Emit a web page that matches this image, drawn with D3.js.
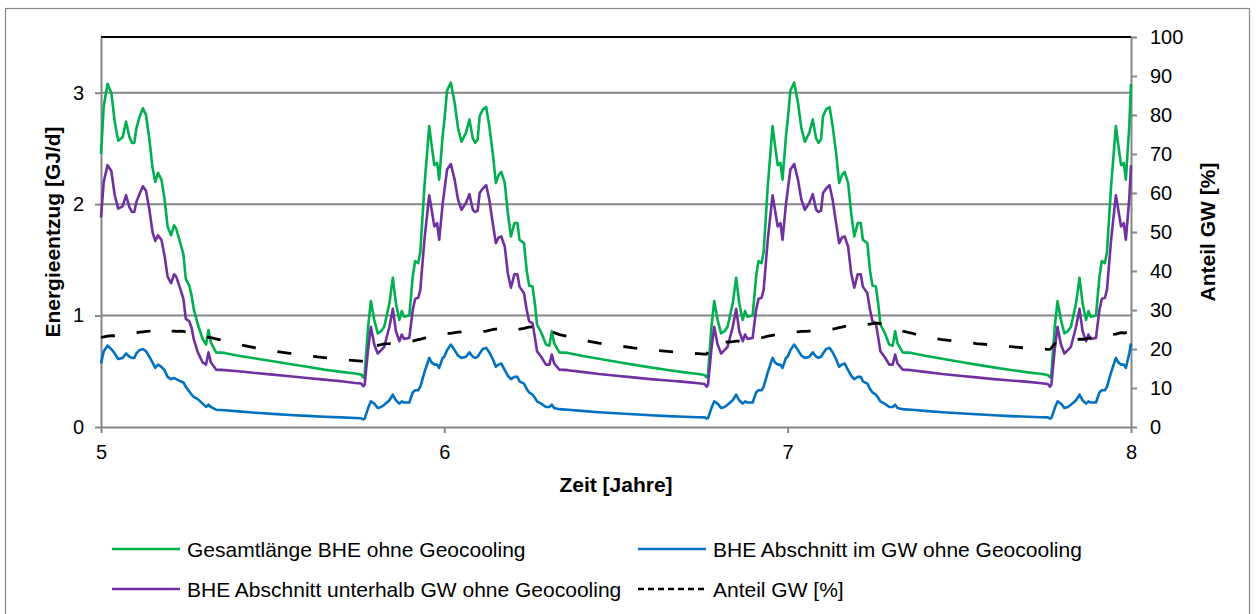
<!DOCTYPE html>
<html>
<head>
<meta charset="utf-8">
<script src="https://cdn.jsdelivr.net/npm/d3@7"></script>
<style>
  body { margin: 0; background: #fff; }
  svg { display: block; font-family: "Liberation Sans", Arial, sans-serif; }
</style>
</head>
<body>
<svg id="chart" width="1256" height="614"></svg>
<script>
// Years shown and the sampling grid inside each year (fraction of a year)
const yearStarts = [5, 6, 7];
const phase = [
  0.000, 0.008, 0.019, 0.030, 0.040, 0.050, 0.063, 0.073, 0.083, 0.090,
  0.097, 0.103, 0.112, 0.122, 0.131, 0.141, 0.150, 0.158, 0.166, 0.176,
  0.185, 0.194, 0.204, 0.213, 0.219, 0.232, 0.240, 0.247, 0.257, 0.264,
  0.270, 0.282, 0.296, 0.306, 0.313, 0.320, 0.335, 0.360, 0.400, 0.450,
  0.500, 0.550, 0.600, 0.650, 0.700, 0.740, 0.758, 0.764, 0.768, 0.778,
  0.786, 0.796, 0.806, 0.816, 0.825, 0.840, 0.850, 0.859, 0.869, 0.876,
  0.883, 0.898, 0.908, 0.915, 0.924, 0.930, 0.942, 0.956, 0.963, 0.971,
  0.979, 0.985, 0.995, 1.000
];

// Gesamtlänge BHE ohne Geocooling [GJ/d], one row per year
const gesamt = [
  [2.45, 2.88, 3.08, 3.00, 2.74, 2.57, 2.60, 2.74, 2.60, 2.55,
   2.55, 2.68, 2.78, 2.86, 2.80, 2.58, 2.33, 2.20, 2.28, 2.22,
   2.05, 1.80, 1.72, 1.81, 1.78, 1.64, 1.55, 1.33, 1.27, 1.18,
   1.06, 0.92, 0.79, 0.74, 0.87, 0.76, 0.67, 0.665, 0.64, 0.615,
   0.59, 0.565, 0.54, 0.515, 0.495, 0.48, 0.47, 0.445, 0.47, 0.90,
   1.13, 0.96, 0.84, 0.86, 0.90, 1.11, 1.34, 1.11, 0.96, 1.04,
   0.99, 1.00, 1.35, 1.49, 1.47, 1.57, 2.16, 2.70, 2.53, 2.35,
   2.37, 2.22, 2.61, 2.75],
  [2.75, 3.02, 3.09, 2.91, 2.68, 2.56, 2.64, 2.76, 2.59, 2.55,
   2.58, 2.79, 2.85, 2.87, 2.70, 2.46, 2.19, 2.26, 2.29, 2.19,
   1.92, 1.71, 1.83, 1.83, 1.68, 1.65, 1.40, 1.27, 1.26, 1.10,
   0.92, 0.85, 0.74, 0.73, 0.86, 0.75, 0.67, 0.665, 0.64, 0.612,
   0.585, 0.56, 0.535, 0.512, 0.49, 0.475, 0.466, 0.446, 0.47, 0.90,
   1.13, 0.96, 0.84, 0.86, 0.90, 1.11, 1.34, 1.11, 0.96, 1.04,
   0.99, 1.00, 1.35, 1.49, 1.47, 1.57, 2.16, 2.70, 2.53, 2.35,
   2.37, 2.22, 2.61, 2.75],
  [2.75, 3.02, 3.09, 2.91, 2.68, 2.56, 2.64, 2.76, 2.59, 2.55,
   2.58, 2.79, 2.85, 2.87, 2.70, 2.46, 2.19, 2.26, 2.29, 2.19,
   1.92, 1.71, 1.83, 1.83, 1.68, 1.65, 1.40, 1.27, 1.26, 1.10,
   0.92, 0.85, 0.74, 0.73, 0.86, 0.75, 0.67, 0.665, 0.64, 0.612,
   0.585, 0.56, 0.535, 0.512, 0.49, 0.475, 0.466, 0.446, 0.47, 0.90,
   1.13, 0.96, 0.84, 0.86, 0.90, 1.11, 1.34, 1.11, 0.96, 1.04,
   0.99, 1.00, 1.35, 1.49, 1.47, 1.57, 2.16, 2.70, 2.53, 2.35,
   2.37, 2.22, 2.70, 3.08]
];

// BHE Abschnitt unterhalb GW ohne Geocooling [GJ/d]
const unterhalb = [
  [1.88, 2.20, 2.35, 2.30, 2.08, 1.96, 1.98, 2.08, 1.97, 1.93,
   1.93, 2.02, 2.09, 2.16, 2.12, 1.95, 1.75, 1.67, 1.72, 1.68,
   1.54, 1.35, 1.29, 1.37, 1.35, 1.23, 1.15, 0.97, 0.95, 0.89,
   0.79, 0.67, 0.58, 0.56, 0.67, 0.58, 0.515, 0.51, 0.50, 0.485,
   0.47, 0.455, 0.44, 0.425, 0.41, 0.395, 0.39, 0.365, 0.38, 0.70,
   0.90, 0.74, 0.66, 0.69, 0.72, 0.90, 1.06, 0.86, 0.77, 0.83,
   0.79, 0.80, 1.05, 1.15, 1.16, 1.23, 1.68, 2.08, 1.95, 1.80,
   1.83, 1.68, 2.00, 2.12],
  [2.12, 2.31, 2.36, 2.22, 2.04, 1.95, 2.01, 2.09, 1.95, 1.93,
   1.94, 2.10, 2.14, 2.17, 2.04, 1.83, 1.65, 1.70, 1.71, 1.62,
   1.38, 1.25, 1.37, 1.37, 1.26, 1.20, 1.05, 0.95, 0.93, 0.80,
   0.68, 0.63, 0.56, 0.56, 0.65, 0.57, 0.515, 0.51, 0.495, 0.475,
   0.46, 0.445, 0.43, 0.418, 0.405, 0.392, 0.386, 0.362, 0.38, 0.70,
   0.90, 0.74, 0.66, 0.69, 0.72, 0.90, 1.06, 0.86, 0.77, 0.83,
   0.79, 0.80, 1.05, 1.15, 1.16, 1.23, 1.68, 2.08, 1.95, 1.80,
   1.83, 1.68, 2.00, 2.12],
  [2.12, 2.31, 2.36, 2.22, 2.04, 1.95, 2.01, 2.09, 1.95, 1.93,
   1.94, 2.10, 2.14, 2.17, 2.04, 1.83, 1.65, 1.70, 1.71, 1.62,
   1.38, 1.25, 1.37, 1.37, 1.26, 1.20, 1.05, 0.95, 0.93, 0.80,
   0.68, 0.63, 0.56, 0.56, 0.65, 0.57, 0.515, 0.51, 0.495, 0.475,
   0.46, 0.445, 0.43, 0.418, 0.405, 0.392, 0.386, 0.362, 0.38, 0.70,
   0.90, 0.74, 0.66, 0.69, 0.72, 0.90, 1.06, 0.86, 0.77, 0.83,
   0.79, 0.80, 1.05, 1.15, 1.16, 1.23, 1.68, 2.08, 1.95, 1.80,
   1.83, 1.68, 2.05, 2.35]
];

// BHE Abschnitt im GW ohne Geocooling [GJ/d]
const imGW = [
  [0.57, 0.68, 0.73, 0.70, 0.66, 0.61, 0.62, 0.66, 0.63, 0.62,
   0.62, 0.66, 0.69, 0.70, 0.68, 0.63, 0.58, 0.53, 0.56, 0.54,
   0.51, 0.45, 0.43, 0.44, 0.43, 0.41, 0.40, 0.36, 0.32, 0.29,
   0.27, 0.25, 0.21, 0.18, 0.20, 0.18, 0.155, 0.150, 0.140, 0.128,
   0.118, 0.108, 0.100, 0.092, 0.086, 0.081, 0.078, 0.068, 0.075, 0.17,
   0.23, 0.21, 0.17, 0.18, 0.20, 0.24, 0.29, 0.24, 0.21, 0.23,
   0.22, 0.22, 0.31, 0.33, 0.33, 0.36, 0.49, 0.62, 0.58, 0.56,
   0.56, 0.53, 0.62, 0.63],
  [0.63, 0.69, 0.74, 0.69, 0.64, 0.62, 0.63, 0.67, 0.63, 0.62,
   0.63, 0.66, 0.70, 0.71, 0.67, 0.61, 0.54, 0.56, 0.57, 0.51,
   0.46, 0.43, 0.45, 0.45, 0.41, 0.39, 0.34, 0.31, 0.29, 0.26,
   0.23, 0.21, 0.18, 0.18, 0.20, 0.17, 0.160, 0.155, 0.145, 0.133,
   0.123, 0.114, 0.106, 0.098, 0.092, 0.088, 0.086, 0.076, 0.080, 0.17,
   0.23, 0.21, 0.17, 0.18, 0.20, 0.24, 0.29, 0.24, 0.21, 0.23,
   0.22, 0.22, 0.31, 0.33, 0.33, 0.36, 0.49, 0.62, 0.58, 0.56,
   0.56, 0.53, 0.62, 0.63],
  [0.63, 0.69, 0.74, 0.69, 0.64, 0.62, 0.63, 0.67, 0.63, 0.62,
   0.63, 0.66, 0.70, 0.71, 0.67, 0.61, 0.54, 0.56, 0.57, 0.51,
   0.46, 0.43, 0.45, 0.45, 0.41, 0.39, 0.34, 0.31, 0.29, 0.26,
   0.23, 0.21, 0.18, 0.18, 0.20, 0.17, 0.160, 0.155, 0.145, 0.133,
   0.123, 0.114, 0.106, 0.098, 0.092, 0.088, 0.086, 0.076, 0.080, 0.17,
   0.23, 0.21, 0.17, 0.18, 0.20, 0.24, 0.29, 0.24, 0.21, 0.23,
   0.22, 0.22, 0.31, 0.33, 0.33, 0.36, 0.49, 0.62, 0.58, 0.56,
   0.56, 0.53, 0.66, 0.75]
];

// Anteil GW [%] (secondary axis)
const anteil = [
  [23.0, 23.1, 23.3, 23.4, 23.4, 23.5, 23.7, 23.8, 23.8, 23.9,
   24.0, 24.1, 24.3, 24.4, 24.5, 24.6, 24.8, 25.0, 25.3, 25.0,
   24.8, 24.7, 24.6, 24.6, 24.5, 24.6, 24.5, 24.4, 24.2, 24.0,
   23.9, 23.7, 23.4, 23.2, 23.0, 22.9, 22.6, 22.1, 21.2, 20.3,
   19.5, 18.9, 18.3, 17.8, 17.3, 17.0, 16.9, 16.9, 17.5, 19.0,
   20.2, 20.6, 20.9, 21.1, 21.3, 21.4, 21.5, 21.5, 21.4, 21.5,
   21.6, 21.8, 22.0, 22.2, 22.4, 22.5, 22.8, 23.0, 23.1, 23.2,
   23.4, 23.5, 23.8, 23.9],
  [23.9, 24.0, 24.0, 24.2, 24.3, 24.4, 24.5, 24.5, 24.4, 24.3,
   24.3, 24.4, 24.5, 24.6, 24.8, 25.0, 25.1, 25.2, 25.3, 25.4,
   25.5, 25.3, 24.9, 25.0, 25.1, 25.3, 25.5, 25.6, 25.7, 25.9,
   25.9, 25.4, 24.9, 24.6, 24.4, 24.2, 23.7, 23.2, 22.3, 21.5,
   20.9, 20.3, 19.8, 19.4, 19.0, 18.8, 18.7, 18.7, 19.2, 20.6,
   21.3, 21.5, 21.6, 21.7, 21.8, 21.9, 22.0, 22.0, 22.0, 22.1,
   22.1, 22.3, 22.5, 22.7, 22.9, 23.0, 23.3, 23.5, 23.6, 23.7,
   23.8, 23.9, 24.1, 24.2],
  [24.2, 24.3, 24.3, 24.4, 24.5, 24.5, 24.6, 24.6, 24.6, 24.6,
   24.6, 24.7, 24.8, 25.0, 25.1, 25.3, 25.5, 25.6, 25.8, 26.0,
   25.8, 25.7, 25.9, 26.0, 26.1, 26.3, 26.4, 26.5, 26.6, 26.6,
   26.5, 26.2, 25.7, 25.4, 25.2, 25.0, 24.6, 24.1, 23.1, 22.4,
   21.9, 21.4, 21.0, 20.6, 20.2, 20.0, 19.9, 19.9, 20.3, 21.4,
   21.8, 22.0, 22.1, 22.2, 22.3, 22.4, 22.5, 22.5, 22.6, 22.7,
   22.8, 23.0, 23.2, 23.3, 23.4, 23.5, 23.7, 23.8, 24.0, 24.2,
   24.1, 24.2, 24.3, 24.4]
];

const xTicks = [5, 6, 7, 8];
const yLeftTicks = [0, 1, 2, 3];
const yRightTicks = [0, 10, 20, 30, 40, 50, 60, 70, 80, 90, 100];

const series = [
  { name: "Gesamtlänge BHE ohne Geocooling", values: gesamt, axis: "left", color: "#00b050" },
  { name: "BHE Abschnitt im GW ohne Geocooling", values: imGW, axis: "left", color: "#0070c0" },
  { name: "BHE Abschnitt unterhalb GW ohne Geocooling", values: unterhalb, axis: "left", color: "#7030a0" },
  { name: "Anteil GW [%]", values: anteil, axis: "right", color: "#000", dash: "14 22" }
];

// layout
const plot = { left: 101, right: 1131, top: 37, bottom: 427 };
const axisColor = "#868686";

const x = d3.scaleLinear().domain([5, 8]).range([plot.left, plot.right]);
const yL = d3.scaleLinear().domain([0, 3.5]).range([plot.bottom, plot.top]);
const yR = d3.scaleLinear().domain([0, 100]).range([plot.bottom, plot.top]);

const svg = d3.select("#chart");

svg.append("rect").attr("width", 1256).attr("height", 614).attr("fill", "#fff");
// chart frame
svg.append("rect")
  .attr("x", 5.5).attr("y", 8.5).attr("width", 1244).attr("height", 700)
  .attr("fill", "none").attr("stroke", axisColor).attr("stroke-width", 1.2);

// gridlines
svg.append("g").selectAll("line")
  .data([1, 2, 3])
  .enter().append("line")
  .attr("x1", plot.left).attr("x2", plot.right)
  .attr("y1", d => yL(d)).attr("y2", d => yL(d))
  .attr("stroke", axisColor).attr("stroke-width", 2);

// top border of plot area
svg.append("line")
  .attr("x1", plot.left).attr("x2", plot.right)
  .attr("y1", plot.top).attr("y2", plot.top)
  .attr("stroke", "#000").attr("stroke-width", 2);

function styleAxis(g, size) {
  g.select(".domain").attr("stroke", axisColor).attr("stroke-width", 2);
  g.selectAll(".tick line").attr("stroke", axisColor).attr("stroke-width", 2);
  g.selectAll(".tick text").attr("fill", "#000").attr("font-size", size + "px")
    .attr("font-family", "'Liberation Sans', Arial, sans-serif");
}

svg.append("g")
  .attr("transform", `translate(${plot.left},0)`)
  .call(d3.axisLeft(yL).tickValues(yLeftTicks).tickSize(6).tickSizeOuter(0).tickPadding(11).tickFormat(d3.format("d")))
  .call(g => styleAxis(g, 20));

svg.append("g")
  .attr("transform", `translate(${plot.right},0)`)
  .call(d3.axisRight(yR).tickValues(yRightTicks).tickSize(6).tickSizeOuter(0).tickPadding(13).tickFormat(d3.format("d")))
  .call(g => styleAxis(g, 20));

svg.append("g")
  .attr("transform", `translate(0,${plot.bottom})`)
  .call(d3.axisBottom(x).tickValues(xTicks).tickSize(6).tickSizeOuter(0).tickPadding(12).tickFormat(d3.format("d")))
  .call(g => styleAxis(g, 20));

// axis titles
svg.append("text")
  .attr("transform", `translate(52,${(plot.top + plot.bottom) / 2}) rotate(-90)`)
  .attr("text-anchor", "middle").attr("dominant-baseline", "central")
  .attr("font-size", "21px").attr("font-weight", "bold")
  .text("Energieentzug [GJ/d]");

svg.append("text")
  .attr("transform", `translate(1207,${(plot.top + plot.bottom) / 2}) rotate(-90)`)
  .attr("text-anchor", "middle").attr("dominant-baseline", "central")
  .attr("font-size", "21px").attr("font-weight", "bold")
  .text("Anteil GW [%]");

svg.append("text")
  .attr("x", (plot.left + plot.right) / 2).attr("y", 492)
  .attr("text-anchor", "middle")
  .attr("font-size", "21px").attr("font-weight", "bold")
  .text("Zeit [Jahre]");

// build points per series
function points(s) {
  const pts = [];
  yearStarts.forEach((yr, i) => {
    phase.forEach((p, j) => pts.push({ t: yr + p, v: s.values[i][j] }));
  });
  return pts;
}

const lines = svg.append("g");
series.forEach(s => {
  const yScale = s.axis === "left" ? yL : yR;
  const line = d3.line().x(d => x(d.t)).y(d => yScale(d.v));
  lines.append("path")
    .datum(points(s))
    .attr("d", line)
    .attr("fill", "none")
    .attr("stroke", s.color)
    .attr("stroke-width", s.dash ? 2.8 : 2.6)
    .attr("stroke-linejoin", "round")
    .attr("stroke-dasharray", s.dash || null);
});

// legend
const legendPos = [
  { x: 112, y: 549 },  // Gesamtlänge
  { x: 638, y: 549 },  // im GW
  { x: 112, y: 589 },  // unterhalb
  { x: 638, y: 589 }   // Anteil
];
const legend = svg.append("g");
series.forEach((s, i) => {
  const p = legendPos[i];
  legend.append("line")
    .attr("x1", p.x).attr("x2", p.x + 68)
    .attr("y1", p.y).attr("y2", p.y)
    .attr("stroke", s.color).attr("stroke-width", 2.6)
    .attr("stroke-dasharray", s.dash ? "6 4" : null);
  legend.append("text")
    .attr("x", p.x + 75).attr("y", p.y + 7.5)
    .attr("font-size", "21px")
    .text(s.name);
});
</script>
</body>
</html>
